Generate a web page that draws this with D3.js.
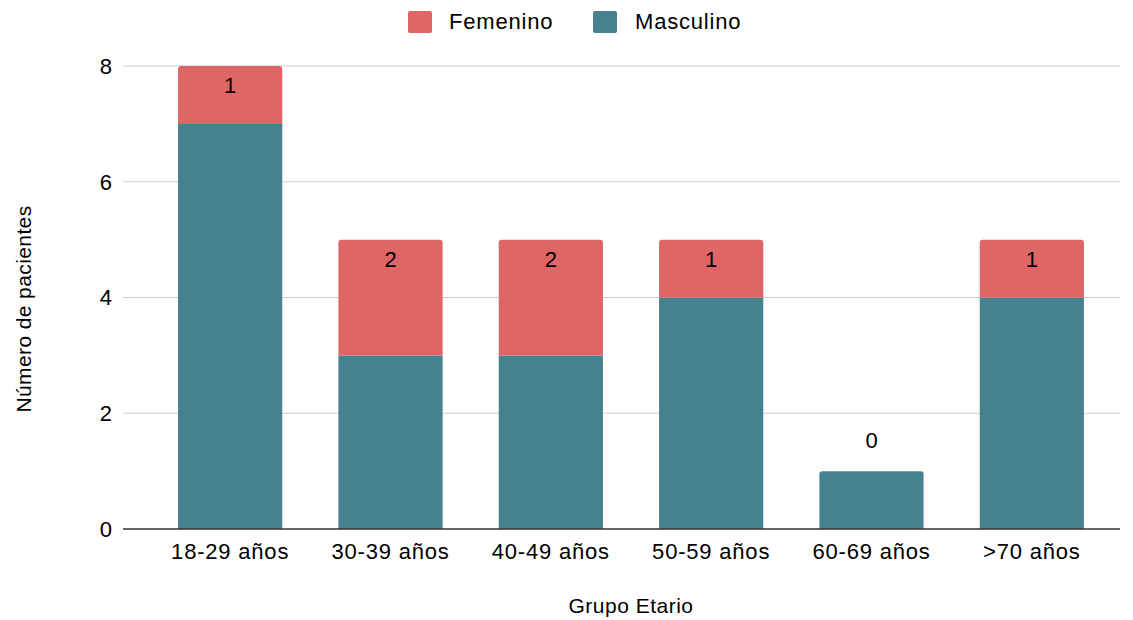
<!DOCTYPE html>
<html><head><meta charset="utf-8">
<script src="https://cdn.jsdelivr.net/npm/d3@7"></script>
<style>body{margin:0;background:#fff}svg{display:block}text{font-family:"Liberation Sans",Arial,sans-serif;fill:#000}</style>
</head><body>
<svg id="c" width="1133" height="620"></svg>
<script>
const categories = ["18-29 años","30-39 años","40-49 años","50-59 años","60-69 años",">70 años"];
const masculino = [7,3,3,4,1,4];
const femenino = [1,2,2,1,0,1];
const yTicks = [0,2,4,6,8];
const seriesNames = ["Femenino","Masculino"];
const colors = {Femenino:"#e06666", Masculino:"#45818e"};

const svg = d3.select("#c");
const y = d3.scaleLinear().domain([0,8]).range([529,66]);
const x = d3.scaleBand().domain(categories).range([150,1112]).paddingInner(0.35).paddingOuter(0.175);
const gridX0=123, gridX1=1120;

svg.append("g").selectAll("line").data(yTicks.filter(d=>d>0)).join("line")
  .attr("x1",gridX0).attr("x2",gridX1).attr("y1",d=>y(d)).attr("y2",d=>y(d))
  .attr("stroke","#cccccc").attr("stroke-width",1.2);

svg.append("g").selectAll("text").data(yTicks).join("text")
  .attr("x",112).attr("y",d=>y(d)).attr("dy","0.36em").attr("text-anchor","end")
  .style("font-size","22px").text(d=>d);

const data = categories.map((c,i)=>({cat:c, m:masculino[i], f:femenino[i]}));
const stack = d3.stack().keys(["m","f"])(data);
const r=3;
function topRounded(x0,y0,w,h,rad){
  if(h<=0) return "";
  rad=Math.min(rad,h,w/2);
  return `M${x0},${y0+h}V${y0+rad}Q${x0},${y0} ${x0+rad},${y0}H${x0+w-rad}Q${x0+w},${y0} ${x0+w},${y0+rad}V${y0+h}Z`;
}
svg.append("g").selectAll("path").data(stack[0]).join("path")
  .attr("fill",colors.Masculino)
  .attr("d",(d,i)=>{const x0=x(data[i].cat),w=x.bandwidth(),y0=y(d[1]),h=y(d[0])-y(d[1]);
     return data[i].f>0? `M${x0},${y0}h${w}v${h}h${-w}Z` : topRounded(x0,y0,w,h,r);});
svg.append("g").selectAll("path").data(stack[1]).join("path")
  .attr("fill",colors.Femenino)
  .attr("d",(d,i)=>topRounded(x(data[i].cat),y(d[1]),x.bandwidth(),y(d[0])-y(d[1]),r));

svg.append("g").selectAll("text").data(stack[1]).join("text")
  .attr("x",(d,i)=>x(data[i].cat)+x.bandwidth()/2)
  .attr("y",(d,i)=>data[i].f>0? y(d[1])+27 : y(d[1])-23)
  .attr("text-anchor","middle").style("font-size","22px")
  .text((d,i)=>data[i].f);

svg.append("line").attr("x1",gridX0).attr("x2",gridX1).attr("y1",y(0)).attr("y2",y(0))
  .attr("stroke","#333").attr("stroke-width",1.5);

svg.append("g").selectAll("text").data(categories).join("text")
  .attr("x",d=>x(d)+x.bandwidth()/2).attr("y",559).attr("text-anchor","middle")
  .style("font-size","22px").style("letter-spacing","0.8px").text(d=>d);

svg.append("text").attr("x",631).attr("y",613).attr("text-anchor","middle")
  .style("font-size","21px").style("letter-spacing","0.5px").text("Grupo Etario");
svg.append("text").attr("transform","translate(31,309) rotate(-90)").attr("text-anchor","middle")
  .style("font-size","21px").style("letter-spacing","0.4px").text("Número de pacientes");

const legend = [{name:"Femenino",sx:408,tx:449},{name:"Masculino",sx:593,tx:635}];
const lg = svg.append("g").selectAll("g").data(legend).join("g");
lg.append("rect").attr("x",d=>d.sx).attr("y",11).attr("width",24).attr("height",22).attr("rx",2)
  .attr("fill",d=>colors[d.name]);
lg.append("text").attr("x",d=>d.tx).attr("y",29).style("font-size","22px").style("letter-spacing","0.8px").text(d=>d.name);
</script>
</body></html>
